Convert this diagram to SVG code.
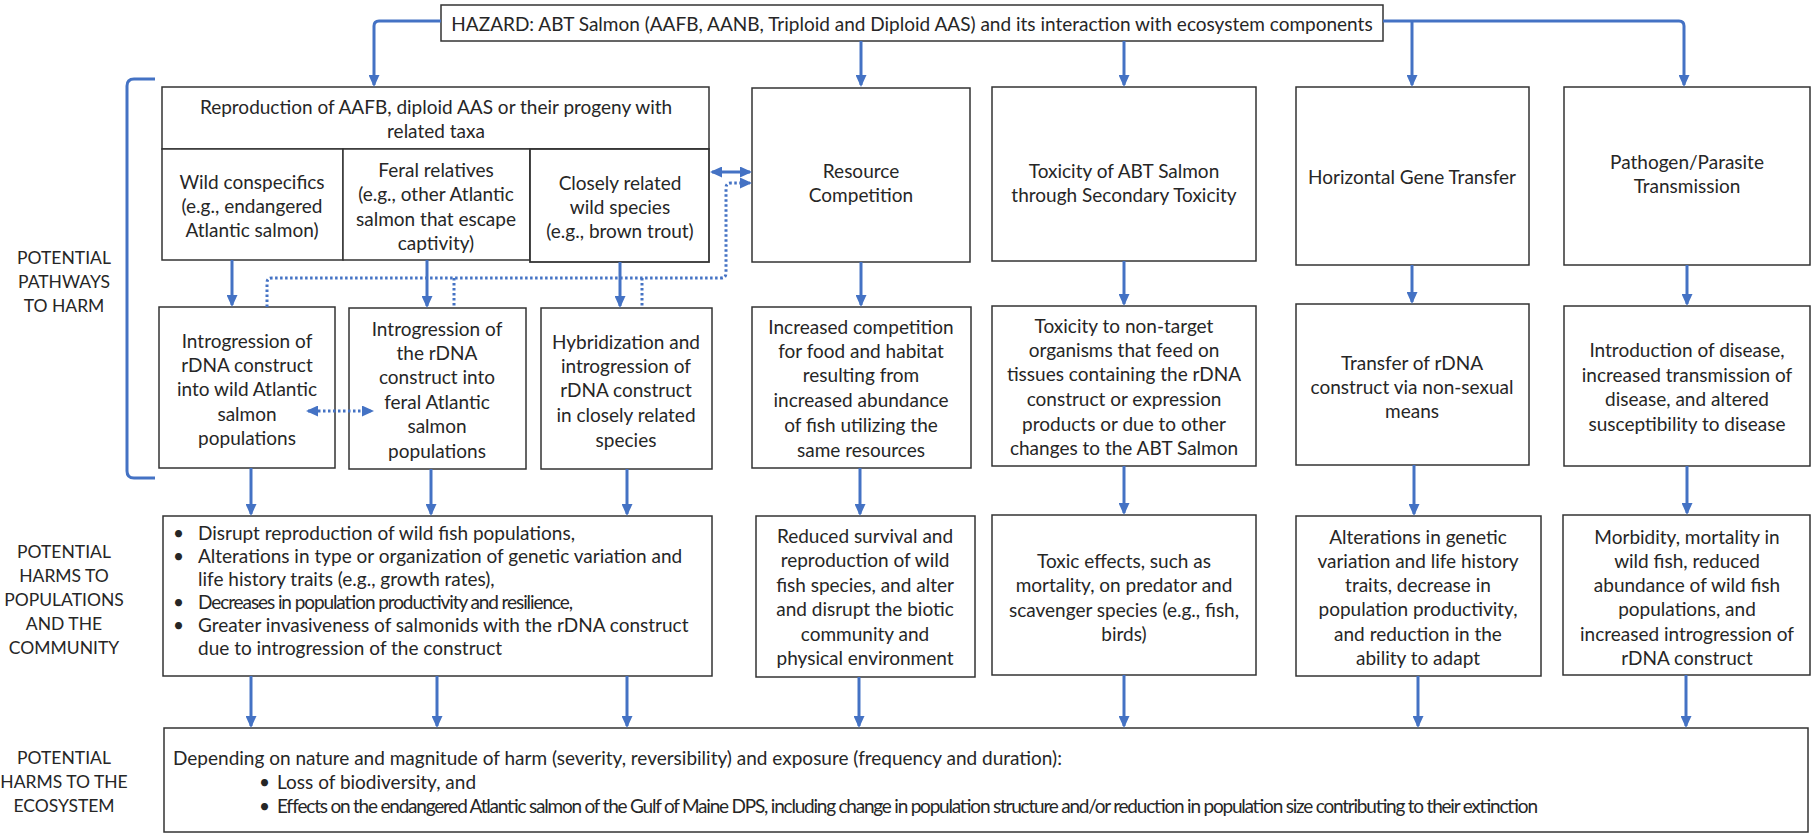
<svg xmlns="http://www.w3.org/2000/svg" width="1813" height="833" viewBox="0 0 1813 833">
  <defs>
    <style>
      .box { fill: #ffffff; stroke: #333333; stroke-width: 1.5; }
      .t { font-family: Lato, "Liberation Sans", sans-serif; font-size: 19px; fill: #262626; text-anchor: middle; dominant-baseline: central; }
      .tl { font-family: Lato, "Liberation Sans", sans-serif; font-size: 19px; fill: #262626; dominant-baseline: central; }
      .lab { font-family: Lato, "Liberation Sans", sans-serif; font-size: 17.5px; fill: #262626; text-anchor: middle; dominant-baseline: central; }
      .conn { fill: none; stroke: #4472c4; stroke-width: 3; }
      .dot { fill: none; stroke: #4472c4; stroke-width: 3; stroke-dasharray: 2.5 2.5; }
    </style>
    <marker id="ah" markerUnits="userSpaceOnUse" markerWidth="12" markerHeight="11" viewBox="0 0 12 11" refX="10" refY="5.5" orient="auto-start-reverse">
      <path d="M0,0 L12,5.5 L0,11 z" fill="#4472c4"/>
    </marker>
  </defs>

  <rect width="1813" height="833" fill="#ffffff"/>

  <!-- Section labels -->
  <g id="labels">
    <text class="lab" x="64" y="257">POTENTIAL</text>
    <text class="lab" x="64" y="281">PATHWAYS</text>
    <text class="lab" x="64" y="305">TO HARM</text>
    <text class="lab" x="64" y="551">POTENTIAL</text>
    <text class="lab" x="64" y="575">HARMS TO</text>
    <text class="lab" x="64" y="599">POPULATIONS</text>
    <text class="lab" x="64" y="623">AND THE</text>
    <text class="lab" x="64" y="647">COMMUNITY</text>
    <text class="lab" x="64" y="757">POTENTIAL</text>
    <text class="lab" x="64" y="781">HARMS TO THE</text>
    <text class="lab" x="64" y="805">ECOSYSTEM</text>
  </g>

  <!-- Hazard -->
  <g id="hazard">
    <rect class="box" x="441" y="5" width="942" height="36"/>
    <text class="t" x="912" y="23">HAZARD: ABT Salmon (AAFB, AANB, Triploid and Diploid AAS) and its interaction with ecosystem components</text>
  </g>

  <!-- Pathway 1: reproduction with related taxa -->
  <g id="reproduction">
    <rect class="box" x="162" y="87" width="547" height="62"/>
    <text class="t" x="436" y="106">Reproduction of AAFB, diploid AAS or their progeny with</text>
    <text class="t" x="436" y="130">related taxa</text>
  </g>
  <g id="wild-conspecifics">
    <rect class="box" x="162" y="149" width="181" height="111"/>
    <text class="t" x="252" y="181">Wild conspecifics</text>
    <text class="t" x="252" y="205">(e.g., endangered</text>
    <text class="t" x="252" y="229">Atlantic salmon)</text>
  </g>
  <g id="feral-relatives">
    <rect class="box" x="343" y="149" width="187" height="111"/>
    <text class="t" x="436" y="169">Feral relatives</text>
    <text class="t" x="436" y="193">(e.g., other Atlantic</text>
    <text class="t" x="436" y="218">salmon that escape</text>
    <text class="t" x="436" y="242">captivity)</text>
  </g>
  <g id="closely-related">
    <rect class="box" x="530" y="149" width="179" height="113" style="stroke-width:1.8"/>
    <text class="t" x="620" y="182">Closely related</text>
    <text class="t" x="620" y="206">wild species</text>
    <text class="t" x="620" y="230">(e.g., brown trout)</text>
  </g>

  <!-- Pathways 2-5 -->
  <g id="resource-competition">
    <rect class="box" x="752" y="88" width="218" height="174"/>
    <text class="t" x="861" y="170">Resource</text>
    <text class="t" x="861" y="194">Competition</text>
  </g>
  <g id="toxicity">
    <rect class="box" x="992" y="87" width="264" height="174"/>
    <text class="t" x="1124" y="170">Toxicity of ABT Salmon</text>
    <text class="t" x="1124" y="194">through Secondary Toxicity</text>
  </g>
  <g id="horizontal-gene-transfer">
    <rect class="box" x="1296" y="87" width="233" height="178"/>
    <text class="t" x="1412" y="176">Horizontal Gene Transfer</text>
  </g>
  <g id="pathogen">
    <rect class="box" x="1564" y="87" width="246" height="178"/>
    <text class="t" x="1687" y="161">Pathogen/Parasite</text>
    <text class="t" x="1687" y="185">Transmission</text>
  </g>

  <!-- Second tier -->
  <g id="introgression-wild">
    <rect class="box" x="159" y="307" width="176" height="161"/>
    <text class="t" x="247" y="340">Introgression of</text>
    <text class="t" x="247" y="364">rDNA construct</text>
    <text class="t" x="247" y="388">into wild Atlantic</text>
    <text class="t" x="247" y="413">salmon</text>
    <text class="t" x="247" y="437">populations</text>
  </g>
  <g id="introgression-feral">
    <rect class="box" x="349" y="308" width="177" height="161"/>
    <text class="t" x="437" y="328">Introgression of</text>
    <text class="t" x="437" y="352">the rDNA</text>
    <text class="t" x="437" y="376">construct into</text>
    <text class="t" x="437" y="401">feral Atlantic</text>
    <text class="t" x="437" y="425">salmon</text>
    <text class="t" x="437" y="450">populations</text>
  </g>
  <g id="hybridization">
    <rect class="box" x="541" y="308" width="171" height="161"/>
    <text class="t" x="626" y="341">Hybridization and</text>
    <text class="t" x="626" y="365">introgression of</text>
    <text class="t" x="626" y="389">rDNA construct</text>
    <text class="t" x="626" y="414">in closely related</text>
    <text class="t" x="626" y="439">species</text>
  </g>
  <g id="increased-competition">
    <rect class="box" x="752" y="307" width="219" height="161"/>
    <text class="t" x="861" y="326">Increased competition</text>
    <text class="t" x="861" y="350">for food and habitat</text>
    <text class="t" x="861" y="374">resulting from</text>
    <text class="t" x="861" y="399">increased abundance</text>
    <text class="t" x="861" y="424">of fish utilizing the</text>
    <text class="t" x="861" y="449">same resources</text>
  </g>
  <g id="toxicity-non-target">
    <rect class="box" x="992" y="306" width="264" height="160"/>
    <text class="t" x="1124" y="325">Toxicity to non-target</text>
    <text class="t" x="1124" y="349">organisms that feed on</text>
    <text class="t" x="1124" y="373">tissues containing the rDNA</text>
    <text class="t" x="1124" y="398">construct or expression</text>
    <text class="t" x="1124" y="423">products or due to other</text>
    <text class="t" x="1124" y="447">changes to the ABT Salmon</text>
  </g>
  <g id="transfer">
    <rect class="box" x="1296" y="304" width="233" height="161"/>
    <text class="t" x="1412" y="362">Transfer of rDNA</text>
    <text class="t" x="1412" y="386">construct via non-sexual</text>
    <text class="t" x="1412" y="410">means</text>
  </g>
  <g id="introduction-disease">
    <rect class="box" x="1564" y="306" width="246" height="160"/>
    <text class="t" x="1687" y="349">Introduction of disease,</text>
    <text class="t" x="1687" y="374">increased transmission of</text>
    <text class="t" x="1687" y="398">disease, and altered</text>
    <text class="t" x="1687" y="423">susceptibility to disease</text>
  </g>

  <!-- Harms to populations and the community -->
  <g id="harms-reproduction">
    <rect class="box" x="163" y="516" width="549" height="160"/>
    <text class="tl" x="173" y="532">•</text>
    <text class="tl" x="198" y="532">Disrupt reproduction of wild fish populations,</text>
    <text class="tl" x="173" y="555">•</text>
    <text class="tl" x="198" y="555">Alterations in type or organization of genetic variation and</text>
    <text class="tl" x="198" y="578">life history traits (e.g., growth rates),</text>
    <text class="tl" x="173" y="601">•</text>
    <text class="tl" x="198" y="601" textLength="375" lengthAdjust="spacing">Decreases in population productivity and resilience,</text>
    <text class="tl" x="173" y="624">•</text>
    <text class="tl" x="198" y="624">Greater invasiveness of salmonids with the rDNA construct</text>
    <text class="tl" x="198" y="647">due to introgression of the construct</text>
  </g>
  <g id="harms-competition">
    <rect class="box" x="756" y="516" width="219" height="161"/>
    <text class="t" x="865" y="535">Reduced survival and</text>
    <text class="t" x="865" y="559">reproduction of wild</text>
    <text class="t" x="865" y="584">fish species, and alter</text>
    <text class="t" x="865" y="608">and disrupt the biotic</text>
    <text class="t" x="865" y="633">community and</text>
    <text class="t" x="865" y="657">physical environment</text>
  </g>
  <g id="harms-toxicity">
    <rect class="box" x="992" y="515" width="264" height="160"/>
    <text class="t" x="1124" y="560">Toxic effects, such as</text>
    <text class="t" x="1124" y="584">mortality, on predator and</text>
    <text class="t" x="1124" y="609">scavenger species (e.g., fish,</text>
    <text class="t" x="1124" y="633">birds)</text>
  </g>
  <g id="harms-gene-transfer">
    <rect class="box" x="1296" y="516" width="245" height="160"/>
    <text class="t" x="1418" y="536">Alterations in genetic</text>
    <text class="t" x="1418" y="560">variation and life history</text>
    <text class="t" x="1418" y="584">traits, decrease in</text>
    <text class="t" x="1418" y="608">population productivity,</text>
    <text class="t" x="1418" y="633">and reduction in the</text>
    <text class="t" x="1418" y="657">ability to adapt</text>
  </g>
  <g id="harms-pathogen">
    <rect class="box" x="1563" y="515" width="247" height="160"/>
    <text class="t" x="1687" y="536">Morbidity, mortality in</text>
    <text class="t" x="1687" y="560">wild fish, reduced</text>
    <text class="t" x="1687" y="584">abundance of wild fish</text>
    <text class="t" x="1687" y="608">populations, and</text>
    <text class="t" x="1687" y="633">increased introgression of</text>
    <text class="t" x="1687" y="657">rDNA construct</text>
  </g>

  <!-- Harms to the ecosystem -->
  <g id="harms-ecosystem">
    <rect class="box" x="164" y="728" width="1644" height="104"/>
    <text class="tl" x="173" y="757">Depending on nature and magnitude of harm (severity, reversibility) and exposure (frequency and duration):</text>
    <text class="tl" x="259" y="781">•</text>
    <text class="tl" x="277" y="781">Loss of biodiversity, and</text>
    <text class="tl" x="259" y="805">•</text>
    <text class="tl" x="277" y="805" textLength="1261" lengthAdjust="spacing">Effects on the endangered Atlantic salmon of the Gulf of Maine DPS, including change in population structure and/or reduction in population size contributing to their extinction</text>
  </g>

  <!-- Connectors -->
  <g id="connectors">
    <path class="conn" d="M155,79 H134 Q127,79 127,86 V471 Q127,478 134,478 H155"/>

    <path class="conn" d="M441,21 H379 Q374,21 374,26 V85" marker-end="url(#ah)"/>
    <path class="conn" d="M861,41 V85" marker-end="url(#ah)"/>
    <path class="conn" d="M1124,41 V85" marker-end="url(#ah)"/>
    <path class="conn" d="M1383,21 H1679 Q1684,21 1684,26 V85" marker-end="url(#ah)"/>
    <path class="conn" d="M1412,21 V85" marker-end="url(#ah)"/>

    <path class="conn" d="M232,260 V305" marker-end="url(#ah)"/>
    <path class="conn" d="M427,260 V306" marker-end="url(#ah)"/>
    <path class="conn" d="M620,262 V306" marker-end="url(#ah)"/>
    <path class="conn" d="M861,262 V305" marker-end="url(#ah)"/>
    <path class="conn" d="M1124,261 V304" marker-end="url(#ah)"/>
    <path class="conn" d="M1412,265 V302" marker-end="url(#ah)"/>
    <path class="conn" d="M1687,265 V304" marker-end="url(#ah)"/>

    <path class="conn" d="M251,468 V514" marker-end="url(#ah)"/>
    <path class="conn" d="M431,469 V514" marker-end="url(#ah)"/>
    <path class="conn" d="M627,469 V514" marker-end="url(#ah)"/>
    <path class="conn" d="M860,468 V514" marker-end="url(#ah)"/>
    <path class="conn" d="M1124,466 V513" marker-end="url(#ah)"/>
    <path class="conn" d="M1414,465 V514" marker-end="url(#ah)"/>
    <path class="conn" d="M1687,466 V513" marker-end="url(#ah)"/>

    <path class="conn" d="M251,676 V726" marker-end="url(#ah)"/>
    <path class="conn" d="M437,676 V726" marker-end="url(#ah)"/>
    <path class="conn" d="M627,676 V726" marker-end="url(#ah)"/>
    <path class="conn" d="M859,677 V726" marker-end="url(#ah)"/>
    <path class="conn" d="M1124,675 V726" marker-end="url(#ah)"/>
    <path class="conn" d="M1418,676 V726" marker-end="url(#ah)"/>
    <path class="conn" d="M1686,675 V726" marker-end="url(#ah)"/>

    <path class="conn" d="M712,172 H750" marker-start="url(#ah)" marker-end="url(#ah)"/>

    <path class="dot" d="M267,307 V283 Q267,278 272,278 H721 Q726,278 726,273 V188 Q726,183 731,183 H750" marker-end="url(#ah)"/>
    <path class="dot" d="M454,278 V307"/>
    <path class="dot" d="M642,278 V307"/>
    <path class="dot" d="M308,411 H372" marker-start="url(#ah)" marker-end="url(#ah)"/>
  </g>
</svg>
